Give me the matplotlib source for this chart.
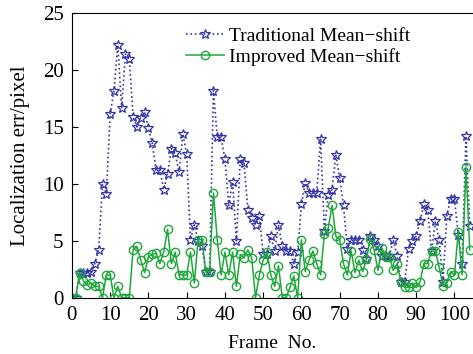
import numpy as np
import matplotlib.pyplot as plt

plt.rcParams['font.family'] = ['Liberation Serif', 'DejaVu Serif']

# frame index
frames = list(range(0, 105))

# localization error (pixel)
traditional = [0, 0, 2.2, 2.2, 2.2, 2.3, 3.0, 4.2, 10.0, 9.1,
               16.1, 18.2, 22.2, 16.7, 21.4, 21.0, 15.9, 15.0, 15.8, 16.3,
               14.9, 13.6, 11.2, 11.2, 9.5, 10.9, 13.1, 12.7, 11.0, 14.4,
               12.6, 5.1, 6.4, 5.0, 4.5, 2.3, 2.3, 18.2, 14.1, 14.1,
               12.2, 8.1, 10.2, 5.0, 12.2, 11.8, 7.7, 7.0, 6.4, 7.2,
               3.8, 3.8, 5.4, 4.1, 6.4, 4.5, 4.1, 4.1, 3.0, 4.0,
               8.2, 10.1, 9.2, 9.2, 9.2, 13.9, 5.9, 9.0, 9.5, 12.5,
               10.5, 8.1, 4.3, 5.1, 5.1, 5.1, 4.2, 3.4, 5.4, 5.1,
               4.5, 3.7, 3.7, 3.7, 5.1, 3.7, 1.4, 1.4, 4.3, 5.0,
               5.4, 6.7, 8.2, 7.7, 4.1, 6.7, 5.1, 1.4, 7.2, 8.7,
               8.7, 5.5, 3.0, 14.2, 6.3]

improved = [0, 0, 2.2, 1.5, 1.1, 1.3, 1.0, 1.0, 0, 2.0,
            2.0, 0, 1.0, 0, 0, 0, 4.2, 4.5, 3.3, 2.2,
            3.6, 3.8, 3.9, 3.0, 4.0, 6.0, 3.0, 4.0, 2.0, 2.0,
            2.0, 4.0, 1.3, 5.1, 5.1, 2.3, 2.3, 9.2, 5.1, 2.0,
            4.0, 2.0, 4.0, 1.0, 3.8, 3.5, 4.2, 3.5, 0, 2.0,
            3.3, 4.0, 2.0, 1.0, 2.8, 0, 0, 0.9, 1.9, 0,
            5.1, 2.3, 3.3, 4.1, 3.0, 2.0, 5.6, 6.1, 8.1, 5.4,
            5.1, 3.0, 2.0, 4.1, 2.2, 3.3, 2.3, 3.4, 5.2, 4.2,
            2.4, 4.4, 3.6, 3.6, 2.4, 3.0, 1.4, 0.9, 0.9, 1.3,
            0.9, 1.4, 3.0, 3.0, 4.1, 4.1, 2.7, 1.0, 1.3, 2.3,
            2.0, 5.8, 2.0, 11.5, 4.2]

labels = ['Traditional Mean\u2212shift', 'Improved Mean\u2212shift']

fig = plt.figure(figsize=(4.73, 3.54), dpi=100)
ax = fig.add_axes([0.152, 0.159, 0.846, 0.804])

ax.plot(frames, traditional, color='#3535a8', linestyle=':', linewidth=1.2,
        marker='*', markersize=7.5, markerfacecolor='none',
        markeredgecolor='#3535a8', markeredgewidth=0.9, label=labels[0])
ax.plot(frames, improved, color='#1fa83a', linestyle='-', linewidth=1.1,
        marker='o', markersize=6, markerfacecolor='none',
        markeredgecolor='#1fa83a', markeredgewidth=1.0, label=labels[1])

ax.set_xlim(0, 104.6)
ax.set_ylim(0, 25)
ax.set_xticks(range(0, 101, 10))
ax.set_yticks(range(0, 26, 5))
ax.tick_params(direction='in', labelsize=15, pad=6, length=4)
ax.spines['right'].set_visible(False)

ax.set_xlabel('Frame  No.', fontsize=14, labelpad=7)
ax.set_ylabel('Localization err/pixel', fontsize=15, labelpad=9)

ax.legend(loc='upper left', bbox_to_anchor=(0.255, 0.99), frameon=False,
          fontsize=14, handlelength=2.0, handletextpad=0.25, labelspacing=0.15,
          borderaxespad=0.2)

fig.savefig('out.png', dpi=100)
